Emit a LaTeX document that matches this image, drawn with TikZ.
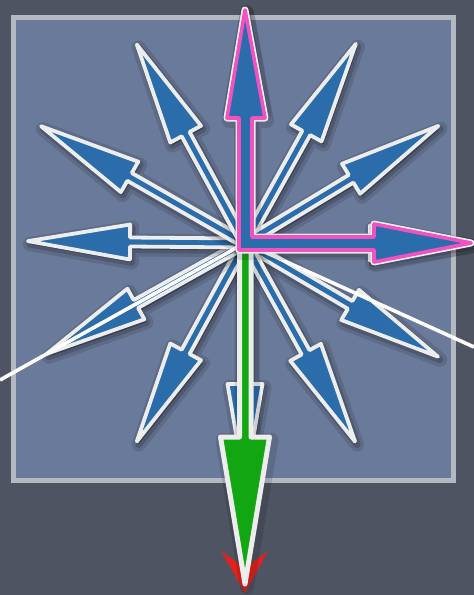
\documentclass[tikz,border=0pt]{standalone}
\usetikzlibrary{calc}
\definecolor{bg}{HTML}{4E5462}
\definecolor{panel}{HTML}{6A7A9A}
\definecolor{panelborder}{HTML}{B3B8C1}
\definecolor{ablue}{HTML}{2A6DAA}
\definecolor{aedge}{HTML}{EDEDED}
\definecolor{apink}{HTML}{F052C2}
\definecolor{agreen}{HTML}{12A612}
\definecolor{ared}{HTML}{E0221E}
\tikzset{
  arrowbody/.style={fill=ablue, draw=aedge, line width=3.8pt, line join=round},
  shadowwide/.style={fill=black, draw=black, line width=14pt, line join=round, opacity=0.12},
  shadownarrow/.style={fill=black, draw=black, line width=7pt, line join=round, opacity=0.16},
  panelbox/.style={fill=panel, draw=panelborder, line width=5pt},
  ray/.style={draw=white, line width=3.6pt},
}
% #1 = angle, #2 = length from centre
\newcommand\bluearrow[2]{%
  \begin{scope}[shift={(247,246)}, rotate=#1]
    \path[shadowwide] (0,-4.5) -- ({#2-104},-4.5) -- ({#2-104},-17.5) -- ({#2-2},0) -- ({#2-104},17.5) -- ({#2-104},4.5) -- (0,4.5) -- cycle;
    \path[shadownarrow] (0,-4.5) -- ({#2-104},-4.5) -- ({#2-104},-17.5) -- ({#2-2},0) -- ({#2-104},17.5) -- ({#2-104},4.5) -- (0,4.5) -- cycle;
  \end{scope}
  \begin{scope}[shift={(C)}, rotate=#1]
    \path[arrowbody] (0,-4.5) -- ({#2-104},-4.5) -- ({#2-104},-17.5) -- ({#2-2},0) -- ({#2-104},17.5) -- ({#2-104},4.5) -- (0,4.5) -- cycle;
  \end{scope}}
\begin{document}
\begin{tikzpicture}[x=1pt, y=-1pt]
  \useasboundingbox (0,0) rectangle (474,595);
  \fill[bg] (0,0) rectangle (474,595);
  \path[panelbox] (13.5,17.5) rectangle (453.5,480.5);
  \coordinate (C) at (245,243);
  \coordinate (wl) at (0,380);
  \coordinate (wr) at (474,347);

  % blue arrows
  \bluearrow{90}{236}
  \bluearrow{0}{229}
  \bluearrow{-90}{245}
  \bluearrow{60.9}{230}
  \bluearrow{31.2}{228}
  \bluearrow{-30.5}{226}
  \bluearrow{-61}{229}
  \bluearrow{-118.6}{228}
  \bluearrow{-150.8}{229}
  \bluearrow{179.5}{219}
  \bluearrow{150.2}{237}
  \bluearrow{118.6}{228}

  % white rays
  \draw[ray] (C) -- (wl);
  \draw[ray] (C) -- (wr);

  % red tip behind the green arrow
  \fill[ared] (245,593) -- (221,551) -- (245,568) -- (268,551) -- cycle;

  % green arrow
  \path[shadowwide, shift={(2,3)}] (239.5,250) -- (239.5,437) -- (220.5,437) -- (245,584) -- (269.5,437) -- (251,437) -- (251,250) -- cycle;
  \path[fill=agreen, draw=aedge, line width=5pt, line join=round]
    (239.5,250) -- (239.5,437) -- (220.5,437) -- (245,584) -- (269.5,437) -- (251,437) -- (251,250) -- cycle;

  % pink L-shaped pair of arrows
  \path[shadowwide, shift={(2,3)}] (239,250) -- (239,118) -- (227,118) -- (245,10) -- (265,118) -- (252,118) -- (252,237) -- (374,237) -- (374,224) -- (471,243) -- (374,262) -- (374,250) -- cycle;
  \path[draw=aedge, line width=7pt, line join=round]
    (239,250) -- (239,118) -- (227,118) -- (245,10) -- (265,118) -- (252,118) -- (252,237) -- (374,237) -- (374,224) -- (471,243) -- (374,262) -- (374,250) -- cycle;
  \path[fill=ablue, draw=apink, line width=3.6pt, line join=round]
    (239,250) -- (239,118) -- (227,118) -- (245,10) -- (265,118) -- (252,118) -- (252,237) -- (374,237) -- (374,224) -- (471,243) -- (374,262) -- (374,250) -- cycle;
\end{tikzpicture}
\end{document}
